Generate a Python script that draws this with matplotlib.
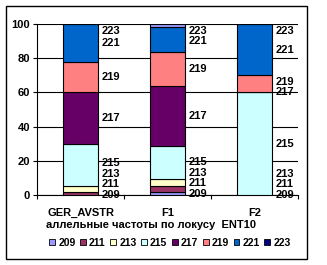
import numpy as np
import matplotlib
matplotlib.use("Agg")
import matplotlib.pyplot as plt
from matplotlib.patches import Rectangle, Patch

plt.rcParams['font.family'] = ['Liberation Sans', 'DejaVu Sans']
plt.rcParams['font.weight'] = 'bold'

# данные
populations = ["GER_AVSTR", "F1", "F2"]
alleles = ["209", "211", "213", "215", "217", "219", "221", "223"]
freq_209 = [0, 1.5, 0]
freq_211 = [2, 4, 0]
freq_213 = [3, 4, 0]
freq_215 = [25, 19, 60]
freq_217 = [30, 35, 0]
freq_219 = [18, 20, 10]
freq_221 = [22, 15, 30]
freq_223 = [0, 1.5, 0]
series = [freq_209, freq_211, freq_213, freq_215, freq_217, freq_219, freq_221, freq_223]

colors = ["#9999FF", "#993366", "#FFFFCC", "#CCFFFF", "#660066", "#FF8080", "#0066CC", "#000080"]

fig = plt.figure(figsize=(3.27, 2.65), dpi=100)
ax = fig.add_axes([37/327, 1-195/265, 261/327, 171/265])

x = np.arange(len(populations))
ancho = 0.4
bottom = np.zeros(len(populations))
centros = []
for i, vals in enumerate(series):
    vals = np.array(vals, dtype=float)
    cols = [colors[i]] * len(populations)
    if alleles[i] == "223":
        cols[1] = colors[0]  # в оригинале полоска сверху F1 светлая
    ax.bar(x, vals, ancho, bottom=bottom, color=cols, edgecolor="black", linewidth=0.8, zorder=3)
    centros.append(bottom + vals / 2)
    bottom = bottom + vals
centros = np.array(centros)

# подписи серий справа от столбцов
gap = 6.2
for j in range(len(populations)):
    pos = centros[:, j].copy()
    for k in range(1, len(pos)):
        pos[k] = max(pos[k], pos[k-1] + gap)
    pos[-1] = min(pos[-1], 96)
    for k in range(len(pos) - 2, -1, -1):
        pos[k] = min(pos[k], pos[k+1] - gap)
    for k, nombre in enumerate(alleles):
        ax.annotate(nombre, (x[j] + ancho/2, pos[k]), xytext=(2.5, 0), textcoords="offset points",
                    ha="left", va="center", fontsize=8, fontweight="bold", zorder=4)

ax.set_xlim(-0.5, 2.5)
ax.set_ylim(0, 100)
ax.set_yticks([0, 20, 40, 60, 80, 100])
ax.set_xticks(x)
ax.set_xticklabels(populations, fontsize=8, fontweight="bold")
ax.set_xticks([-0.5, 0.5, 1.5, 2.5], minor=True)
ax.tick_params(axis="x", which="major", length=0, pad=9)
ax.tick_params(axis="x", which="minor", length=3, direction="out", width=0.8)
ax.tick_params(axis="y", length=3, direction="out", width=0.8, labelsize=8, pad=2)
for lab in ax.get_yticklabels():
    lab.set_fontweight("bold")
ax.yaxis.grid(True, color="black", linewidth=0.8, zorder=0)
ax.set_axisbelow(True)
for s in ["top", "right"]:
    ax.spines[s].set_visible(False)
for s in ["left", "bottom"]:
    ax.spines[s].set_linewidth(0.8)

fig.text(151/327, 1-225/265, "аллельные частоты по локусу  ENT10", ha="center", va="center",
         fontsize=8, fontweight="bold")

handles = [Patch(facecolor=c, edgecolor="black", linewidth=0.6) for c in colors]
fig.legend(handles, alleles, loc="center", bbox_to_anchor=(170/327, 1-243/265), ncol=8, frameon=False,
           handlelength=0.55, handleheight=0.55, handletextpad=0.3, columnspacing=0.45,
           prop={"weight": "bold", "size": 7.5})

fig.patches.append(Rectangle((6/327, 1-259/265), 301/327, 253/265, transform=fig.transFigure,
                             fill=False, edgecolor="black", linewidth=1))

fig.savefig("out.png", dpi=100)
